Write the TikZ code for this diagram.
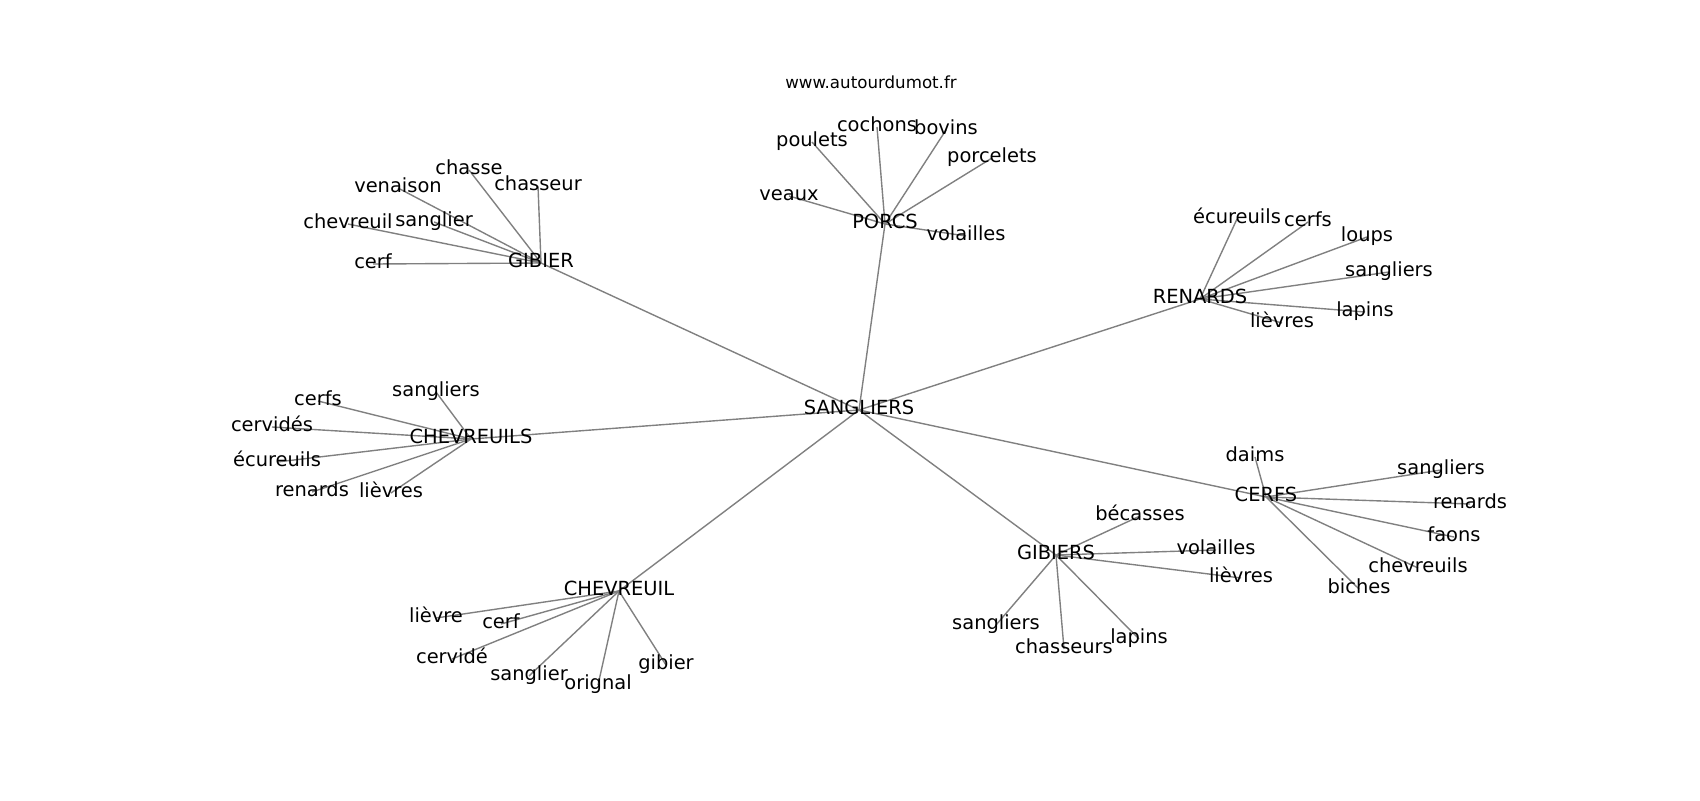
\documentclass[tikz,border=0pt]{standalone}
\usepackage{fontspec}
\setmainfont{DejaVu Sans}
\usetikzlibrary{backgrounds}
\tikzset{
  lbl/.style={inner sep=0pt, text height=0.8em, text depth=0.12em, font=\fontsize{14pt}{16pt}\selectfont},
  ttl/.style={inner sep=0pt, text height=0.8em, text depth=0.12em, font=\fontsize{12pt}{14pt}\selectfont},
  edge/.style={draw=black!50, line width=1pt}
}
\begin{document}
\begin{tikzpicture}[x=0.72pt, y=-0.72pt]
\useasboundingbox (0,0) rectangle (1700,800);
\begin{scope}[shift={(0,2)}]
\node[ttl] (title) at (871,82) {www.autourdumot.fr};
% hubs
\node[lbl] (S) at (859,408) {SANGLIERS};
\node[lbl] (G) at (541,261) {GIBIER};
\node[lbl] (P) at (885,222) {PORCS};
\node[lbl] (R) at (1200,297) {RENARDS};
\node[lbl] (CS) at (471,437) {CHEVREUILS};
\node[lbl] (C) at (619,589) {CHEVREUIL};
\node[lbl] (GS) at (1056,553) {GIBIERS};
\node[lbl] (CF) at (1266,495) {CERFS};
% GIBIER
\node[lbl] (g1) at (373,262) {cerf};
\node[lbl] (g2) at (348,222) {chevreuil};
\node[lbl] (g3) at (434,220) {sanglier};
\node[lbl] (g4) at (398,186) {venaison};
\node[lbl] (g5) at (469,168) {chasse};
\node[lbl] (g6) at (538,184) {chasseur};
% PORCS
\node[lbl] (p1) at (789,194) {veaux};
\node[lbl] (p2) at (812,140) {poulets};
\node[lbl] (p3) at (877,125) {cochons};
\node[lbl] (p4) at (946,128) {bovins};
\node[lbl] (p5) at (992,156) {porcelets};
\node[lbl] (p6) at (966,234) {volailles};
% RENARDS
\node[lbl] (r1) at (1237,217) {écureuils};
\node[lbl] (r2) at (1308,220) {cerfs};
\node[lbl] (r3) at (1367,235) {loups};
\node[lbl] (r4) at (1389,270) {sangliers};
\node[lbl] (r5) at (1365,310) {lapins};
\node[lbl] (r6) at (1282,321) {lièvres};
% CHEVREUILS
\node[lbl] (cs1) at (436,390) {sangliers};
\node[lbl] (cs2) at (318,399) {cerfs};
\node[lbl] (cs3) at (272,425) {cervidés};
\node[lbl] (cs4) at (277,460) {écureuils};
\node[lbl] (cs5) at (312,490) {renards};
\node[lbl] (cs6) at (391,491) {lièvres};
% CHEVREUIL
\node[lbl] (c1) at (436,616) {lièvre};
\node[lbl] (c2) at (501,622) {cerf};
\node[lbl] (c3) at (452,657) {cervidé};
\node[lbl] (c4) at (529,674) {sanglier};
\node[lbl] (c5) at (598,683) {orignal};
\node[lbl] (c6) at (666,663) {gibier};
% GIBIERS
\node[lbl] (gs1) at (1140,514) {bécasses};
\node[lbl] (gs2) at (1216,548) {volailles};
\node[lbl] (gs3) at (1241,576) {lièvres};
\node[lbl] (gs4) at (996,623) {sangliers};
\node[lbl] (gs5) at (1064,647) {chasseurs};
\node[lbl] (gs6) at (1139,637) {lapins};
% CERFS
\node[lbl] (cf1) at (1255,455) {daims};
\node[lbl] (cf2) at (1441,468) {sangliers};
\node[lbl] (cf3) at (1470,502) {renards};
\node[lbl] (cf4) at (1454,535) {faons};
\node[lbl] (cf5) at (1418,566) {chevreuils};
\node[lbl] (cf6) at (1359,587) {biches};
\end{scope}
\begin{pgfonlayer}{background}
\fill[white] (0,0) rectangle (1700,800);
\foreach \h in {G,P,R,CS,C,GS,CF} \draw[edge] (S.center) -- (\h.center);
\foreach \i in {1,...,6} {
  \draw[edge] (G.center) -- (g\i.center);
  \draw[edge] (P.center) -- (p\i.center);
  \draw[edge] (R.center) -- (r\i.center);
  \draw[edge] (CS.center) -- (cs\i.center);
  \draw[edge] (C.center) -- (c\i.center);
  \draw[edge] (GS.center) -- (gs\i.center);
  \draw[edge] (CF.center) -- (cf\i.center);
}
\end{pgfonlayer}
\end{tikzpicture}
\end{document}
